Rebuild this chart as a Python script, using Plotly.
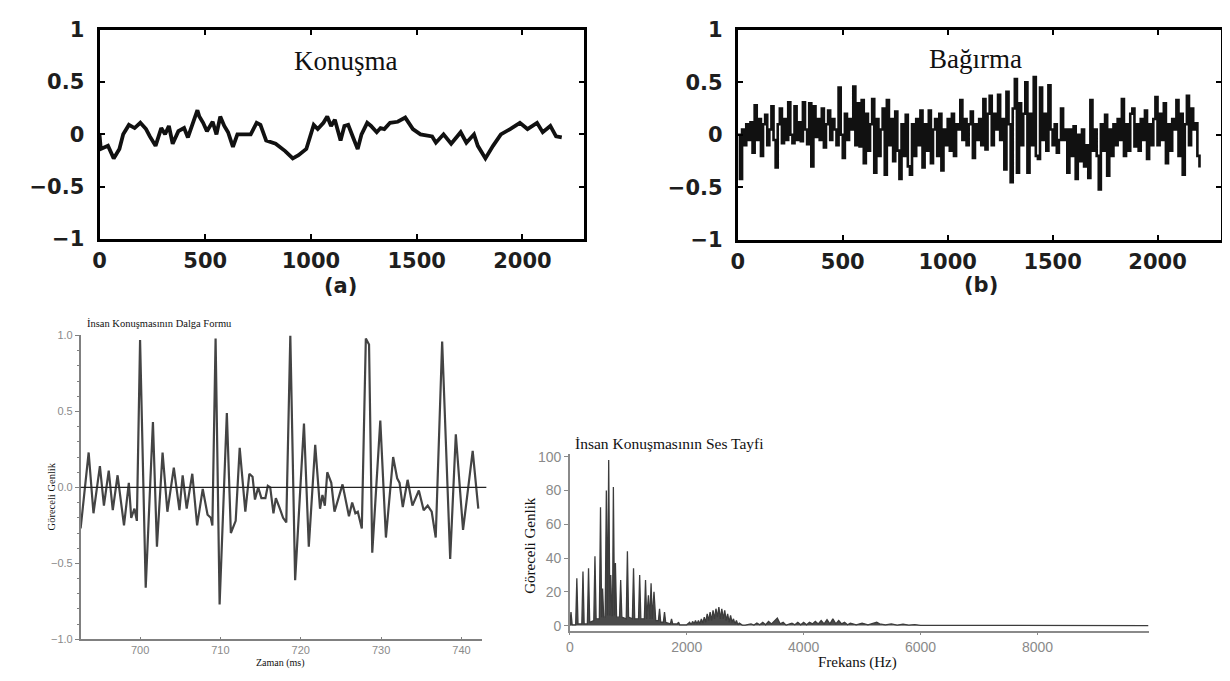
import plotly.graph_objects as go

W, H = 1230, 681

# ---------------- data ----------------
konusma_x = [0, 6, 40, 67, 94, 112, 139, 166, 193, 220,
             238, 265, 292, 310, 328, 346, 373, 400, 418, 436,
             463, 472, 490, 508, 535, 553, 571, 590, 608, 631,
             652, 715, 743, 761, 788, 833, 878, 914, 941, 978,
             1013, 1032, 1059, 1077, 1095, 1113, 1140, 1158, 1176, 1203,
             1221, 1239, 1266, 1284, 1311, 1329, 1347, 1374, 1410, 1446,
             1482, 1518, 1573, 1591, 1627, 1663, 1708, 1735, 1771, 1789,
             1825, 1861, 1898, 1942, 1988, 2024, 2069, 2096, 2132, 2159,
             2186]
konusma_y = [0.0, -0.14, -0.11, -0.23, -0.14, 0.0, 0.09, 0.06, 0.11, 0.05,
             -0.02, -0.11, 0.06, 0.0, 0.08, -0.09, 0.03, 0.06, -0.03, 0.08,
             0.23, 0.17, 0.11, 0.03, 0.12, 0.0, 0.17, 0.08, 0.02, -0.12,
             0.0, 0.0, 0.11, 0.09, -0.06, -0.09, -0.16, -0.23, -0.2, -0.14,
             0.09, 0.05, 0.11, 0.17, 0.08, 0.14, -0.06, 0.08, 0.09, -0.05,
             -0.14, 0.0, 0.11, 0.08, 0.02, 0.06, 0.05, 0.11, 0.12, 0.16,
             0.05, 0.0, -0.02, -0.08, 0.0, -0.09, 0.02, -0.08, 0.0, -0.11,
             -0.23, -0.11, 0.0, 0.05, 0.11, 0.05, 0.11, 0.02, 0.08, -0.02,
             -0.03]

bagirma_x = list(range(0, 2201, 10))
bagirma_y = [0.0, -0.42, 0.05, -0.1, 0.1, -0.05, 0.12, -0.17, 0.28, -0.05,
             0.15, -0.2, 0.1, 0.19, -0.1, 0.05, 0.27, -0.05, -0.31, 0.1,
             0.25, -0.08, 0.15, -0.05, 0.31, 0.0, -0.08, 0.27, -0.05, 0.12,
             -0.06, 0.31, 0.05, -0.09, 0.3, -0.3, 0.27, -0.02, 0.15, -0.05,
             0.25, -0.12, 0.1, 0.23, -0.05, 0.15, 0.05, -0.1, 0.45, 0.0,
             -0.22, 0.2, -0.05, 0.15, 0.05, 0.46, -0.1, 0.3, -0.11, 0.33,
             -0.27, 0.2, -0.15, 0.1, 0.34, -0.36, 0.15, -0.2, 0.05, 0.25,
             -0.38, 0.33, -0.1, 0.15, -0.25, 0.22, -0.15, -0.42, 0.1, -0.2,
             0.19, -0.3, -0.38, 0.1, -0.2, 0.15, -0.1, 0.23, -0.31, 0.1,
             -0.15, 0.23, -0.27, 0.05, 0.15, -0.2, 0.2, -0.34, 0.05, -0.1,
             0.15, -0.15, 0.2, -0.2, 0.1, 0.05, 0.33, -0.05, 0.15, -0.1,
             0.1, 0.22, -0.22, 0.1, -0.05, 0.15, -0.1, 0.34, -0.14, 0.2,
             0.37, -0.1, 0.2, 0.05, 0.38, -0.05, 0.15, -0.33, 0.41, 0.1,
             -0.45, 0.25, 0.53, -0.36, 0.3, -0.1, 0.2, 0.5, -0.36, 0.2,
             -0.1, 0.55, -0.2, -0.23, 0.45, -0.05, 0.2, -0.15, 0.47, 0.05,
             -0.1, 0.1, -0.17, -0.05, 0.25, -0.05, 0.05, -0.36, 0.05, -0.2,
             0.08, -0.42, 0.0, -0.25, 0.05, -0.3, -0.1, -0.41, 0.33, -0.15,
             0.05, -0.2, -0.52, 0.1, -0.15, 0.19, -0.39, 0.05, -0.2, 0.1,
             -0.1, 0.15, -0.05, 0.34, -0.2, 0.1, -0.15, 0.2, 0.25, -0.11,
             0.1, -0.15, 0.15, -0.05, 0.23, -0.23, 0.1, -0.1, 0.15, 0.36,
             -0.1, 0.2, -0.05, 0.3, -0.27, 0.1, -0.15, 0.15, 0.05, 0.33,
             -0.2, 0.2, -0.38, 0.1, 0.37, -0.1, 0.25, 0.05, 0.11, -0.2,
             -0.31]

wave_t = [692.6, 693.6, 694.2, 695.0, 695.5, 696.1, 696.6, 697.2, 698.0, 698.6, 698.9, 699.3, 699.6,
          700.0, 700.7, 701.6, 702.1, 702.8, 703.4, 704.2, 704.9, 705.3, 705.8, 706.5, 707.1, 707.8, 708.4, 708.8, 709.0,
          709.4, 709.9, 710.8, 711.3, 711.9, 712.4, 713.1, 713.6, 714.0, 714.3, 714.7, 715.1, 715.6, 715.9, 716.2, 716.6, 716.9, 717.4, 717.8, 718.2,
          718.7, 719.3, 720.4, 721.0, 721.8, 722.4, 722.7, 723.0, 723.3, 723.8, 724.2, 725.2, 726.0, 726.4, 726.8, 727.1, 727.6,
          728.1, 728.5, 728.9, 729.9, 730.6, 731.5, 732.0, 732.3, 732.7, 733.3, 733.9, 734.7, 735.3, 735.8, 736.3, 736.8,
          737.6, 738.6, 739.3, 740.2, 741.4, 742.1]
wave_amp = [-0.27, 0.23, -0.17, 0.14, -0.12, 0.11, -0.15, 0.08, -0.25, 0.03, -0.2, -0.14, -0.22,
            0.97, -0.66, 0.43, -0.39, 0.23, -0.16, 0.13, -0.15, 0.08, -0.14, 0.09, -0.25, -0.01, -0.18, -0.2, -0.25,
            0.98, -0.77, 0.49, -0.3, -0.22, 0.26, -0.16, 0.09, 0.07, -0.08, 0.0, -0.07, -0.07, 0.01, 0.0, -0.17, -0.07, -0.14, -0.2, -0.23,
            1.0, -0.61, 0.42, -0.39, 0.28, -0.14, -0.05, -0.12, 0.1, 0.03, -0.16, 0.02, -0.19, -0.1, -0.17, -0.16, -0.27,
            0.98, 0.94, -0.43, 0.44, -0.33, 0.2, 0.06, 0.03, -0.13, 0.05, -0.12, -0.02, -0.15, -0.12, -0.16, -0.33,
            0.96, -0.47, 0.35, -0.28, 0.24, -0.14]

spec_freq = [0, 20, 40, 100, 120, 140, 205, 225, 245, 300, 320, 340, 410, 430, 450, 505, 525, 545, 560, 580,
             605, 625, 645, 665, 685, 700, 720, 730, 745, 765, 780, 800, 850, 870, 890, 965, 985, 1005,
             1070, 1090, 1110, 1175, 1195, 1215, 1275, 1295, 1315, 1345, 1370, 1390, 1410, 1440, 1470,
             1515, 1535, 1555, 1600, 1620, 1640, 1720, 1740, 1760, 1840, 1860, 1880, 1950,
             2000, 2050, 2075, 2100, 2125, 2150, 2175, 2200, 2225, 2250,
             2275, 2300, 2325, 2350, 2375, 2400, 2425, 2450, 2475, 2500,
             2525, 2550, 2575, 2600, 2625, 2650, 2675, 2700, 2725, 2750,
             2775, 2800, 2825, 2850, 2875, 2900, 2950, 3000, 3100, 3150,
             3200, 3250, 3300, 3350, 3400, 3450, 3500, 3550, 3600, 3650,
             3700, 3800, 3850, 3900, 3950, 4000, 4050, 4100, 4150, 4200,
             4250, 4300, 4350, 4400, 4450, 4500, 4550, 4600, 4650, 4700,
             4750, 4800, 4900, 5000, 5100, 5200, 5250, 5300, 5400, 5500,
             5600, 5700, 5800, 5900, 6000, 9900]
spec_amp = [0, 8, 0.5, 0.5, 28, 1, 1, 32, 1, 1, 34, 2, 3, 41, 4, 4, 70, 5, 22, 5,
            5, 80, 6, 98, 6, 30, 6, 6, 82, 6, 37, 5, 5, 27, 5, 4, 44, 5,
            4, 34, 4, 4, 30, 4, 4, 27, 4, 18, 4, 25, 4, 20, 3,
            3, 10, 2, 2, 8, 2, 1, 4, 1, 1, 2, 0.5, 0.3,
            0.5, 2, 0.5, 2.5, 1, 3, 1, 3, 1, 4,
            1.5, 5, 2, 7, 3, 8, 3, 9, 4, 10,
            5, 11, 4, 10, 4, 9, 3, 7, 2, 6,
            2, 4, 1, 3, 0.5, 1.5, 0.3, 0.3, 1, 0.3,
            1.5, 0.5, 2, 0.5, 2.5, 1, 3, 4.5, 1, 2,
            0.3, 1.5, 0.5, 2, 0.5, 2, 0.5, 2, 1, 2.5,
            1, 3, 1, 3.5, 1, 4, 1, 3, 1, 2,
            0.5, 1.5, 0.5, 1.5, 0.5, 1.5, 2, 1, 0.5, 1,
            0.3, 0.8, 0.3, 0.6, 0.2, 0]

top_xticks = [0, 500, 1000, 1500, 2000]
top_yticks = [-1, -0.5, 0, 0.5, 1]
top_ytext = ["\u22121", "\u22120.5", "0", "0.5", "1"]
wave_xticks = [700, 710, 720, 730, 740]
wave_yticks = [-1, -0.5, 0, 0.5, 1]
wave_ytext = ["\u22121.0", "\u22120.5", "0.0", "0.5", "1.0"]
spec_xticks = [0, 2000, 4000, 6000, 8000]
spec_yticks = [0, 20, 40, 60, 80, 100]


# ---------------- helpers ----------------
def xdom(a, b):
    return [a / W, b / W]


def ydom(top, bottom):
    return [1 - bottom / H, 1 - top / H]


def px(x):
    return x / W


def py(y):
    return 1 - y / H


bold_font = dict(family="DejaVu Sans", size=21, color="#1e1e1e", weight="bold")
grey_tick = dict(family="Liberation Sans", size=11, color="#8a8a8a")
spec_tick = dict(family="Liberation Sans", size=14, color="#8a8a8a")
serif = "Liberation Serif"

fig = go.Figure()

fig.add_trace(go.Scatter(x=konusma_x, y=konusma_y, xaxis="x", yaxis="y", mode="lines",
                         line=dict(color="#111", width=3.8), hoverinfo="skip"))
fig.add_trace(go.Scatter(x=bagirma_x, y=bagirma_y, xaxis="x2", yaxis="y2", mode="lines",
                         line=dict(color="#111", width=2.6, shape="hv"), hoverinfo="skip"))
fig.add_trace(go.Scatter(x=wave_t, y=wave_amp, xaxis="x3", yaxis="y3", mode="lines",
                         line=dict(color="#444", width=2.2), hoverinfo="skip"))
fig.add_trace(go.Scatter(x=spec_freq, y=spec_amp, xaxis="x4", yaxis="y4", mode="lines",
                         line=dict(color="#3c3c3c", width=1.3), fill="tozeroy",
                         fillcolor="#4a4a4a", hoverinfo="skip"))

fig.add_shape(type="line", xref="x3 domain", yref="y3", x0=0, x1=1.01, y0=0, y1=0,
              line=dict(color="#222", width=1.3))

top_x_common = dict(showline=True, linewidth=3, linecolor="#000", mirror="ticks",
                    ticks="inside", ticklen=5, tickwidth=2, tickcolor="#000",
                    showgrid=False, zeroline=False, tickfont=bold_font,
                    tickvals=top_xticks, ticklabelstandoff=1)
top_y_common = dict(showline=True, linewidth=3, linecolor="#000", mirror="ticks",
                    ticks="inside", ticklen=5, tickwidth=2, tickcolor="#000",
                    showgrid=False, zeroline=False, tickfont=bold_font,
                    tickvals=top_yticks, ticktext=top_ytext, range=[-1, 1],
                    ticklabelstandoff=8)

fig.update_layout(
    width=W, height=H, margin=dict(l=0, r=0, t=0, b=0),
    paper_bgcolor="white", plot_bgcolor="white", showlegend=False,
    xaxis=dict(domain=xdom(85, 572), anchor="y", range=[0, 2290], **top_x_common),
    yaxis=dict(domain=ydom(10, 227), anchor="x", **top_y_common),
    xaxis2=dict(domain=xdom(727, 1213), anchor="y2", range=[0, 2303], **top_x_common),
    yaxis2=dict(domain=ydom(10, 228), anchor="x2", **top_y_common),
    xaxis3=dict(domain=xdom(66, 470), anchor="y3", range=[692.6, 742.6],
                showline=True, linewidth=1.5, linecolor="#808080",
                ticks="inside", ticklen=3, tickcolor="#808080",
                tickvals=wave_xticks, tickfont=grey_tick,
                showgrid=False, zeroline=False),
    yaxis3=dict(domain=ydom(327, 642), anchor="x3", range=[-1, 1],
                showline=True, linewidth=1.5, linecolor="#808080",
                ticks="outside", ticklen=4, tickcolor="#808080",
                tickvals=wave_yticks, ticktext=wave_ytext, tickfont=grey_tick,
                minor=dict(dtick=0.1, ticks="outside", ticklen=2, tickcolor="#808080"),
                showgrid=False, zeroline=False),
    xaxis4=dict(domain=xdom(558, 1140), anchor="y4", range=[0, 9900],
                showline=True, linewidth=1.5, linecolor="#8a8a8a",
                ticks="outside", ticklen=3, tickcolor="#8a8a8a",
                tickvals=spec_xticks, tickfont=spec_tick,
                showgrid=False, zeroline=False),
    yaxis4=dict(domain=ydom(450, 633), anchor="x4", range=[-3, 101.5],
                showline=True, linewidth=1.5, linecolor="#8a8a8a",
                ticks="outside", ticklen=4, tickcolor="#8a8a8a",
                tickvals=spec_yticks, tickfont=spec_tick,
                showgrid=False, zeroline=False),
)


def note(text, x, y, size, family=serif, color="#111", angle=0, xanchor="center",
         xref="paper", yref="paper", font=None):
    return dict(text=text, xref=xref, yref=yref, x=x, y=y, showarrow=False,
                xanchor=xanchor, yanchor="middle", textangle=angle,
                font=font or dict(family=family, size=size, color=color))


annotations = [
    note("Konuşma", 1166, 0.70, 27, xref="x", yref="y"),
    note("Bağırma", 1133, 0.72, 27, xref="x2", yref="y2"),
    note("(a)", px(327), py(276), 21, font=bold_font),
    note("(b)", px(972), py(275), 21, font=bold_font),
    note("İnsan Konuşmasının Dalga Formu", px(70), py(315), 10.5, xanchor="left"),
    note("Göreceli Genlik", px(37), py(494), 10.5, angle=-90),
    note("Zaman (ms)", px(267), py(667), 10),
    note("İnsan Konuşmasının Ses Tayfi", px(561), py(439), 15.5, xanchor="left"),
    note("Göreceli Genlik", px(518), py(545), 15, angle=-90),
    note("Frekans (Hz)", px(847), py(666), 15),
]
fig.update_layout(annotations=annotations)

fig.write_html("out.html")
